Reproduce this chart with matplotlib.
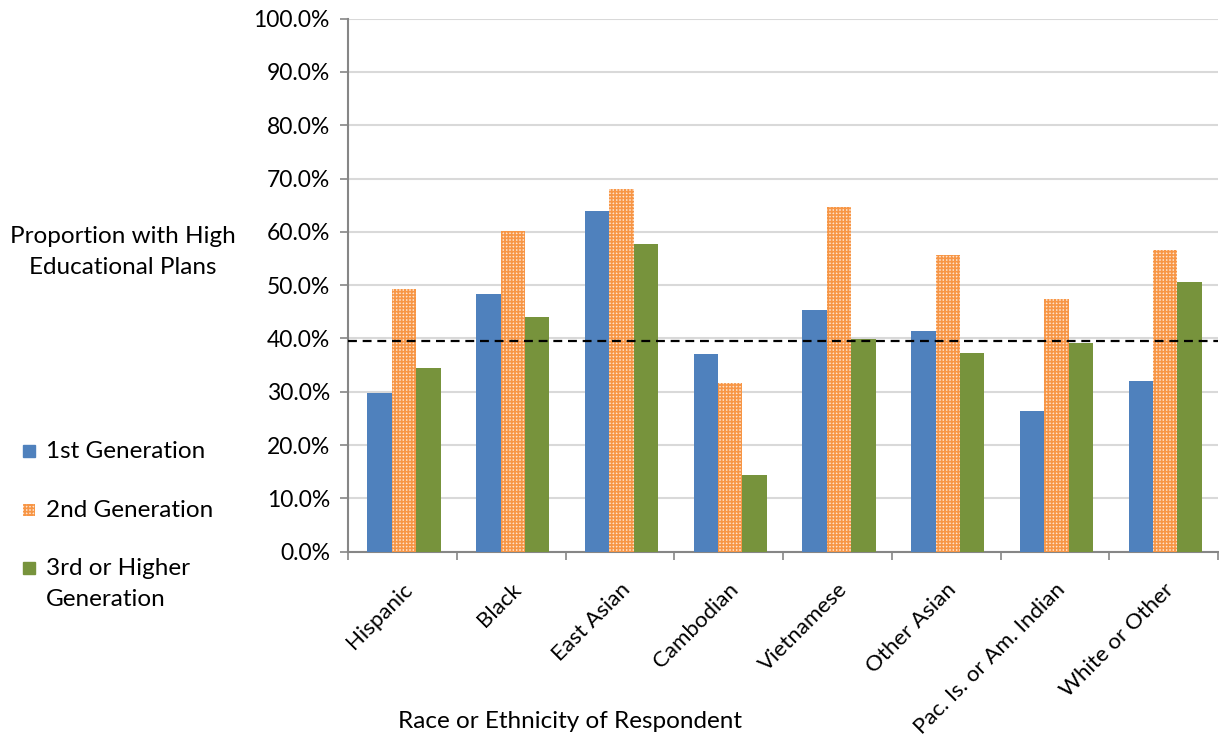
import numpy as np
import matplotlib
matplotlib.use("Agg")
import matplotlib.pyplot as plt
from matplotlib.patches import Rectangle
from matplotlib.ticker import FuncFormatter

plt.rcParams.update({"font.family": ["Lato", "DejaVu Sans"],
                     "hatch.linewidth": 1.2})

groups = ["Hispanic", "Black", "East Asian", "Cambodian", "Vietnamese",
          "Other Asian", "Pac. Is. or Am. Indian", "White or Other"]
gen1 = [29.8, 48.3, 63.9, 37.1, 45.4, 41.4, 26.4, 32.0]
gen2 = [49.2, 60.2, 68.0, 31.6, 64.6, 55.6, 47.4, 56.5]
gen3 = [34.4, 44.0, 57.7, 14.3, 39.9, 37.2, 39.1, 50.6]
overall = 39.6
series = ["1st Generation", "2nd Generation", "3rd or Higher\nGeneration"]

BLUE, ORANGE, GREEN = "#4F81BD", "#F79646", "#77933C"
styles = [dict(color=BLUE),
          dict(facecolor="#FEE3CE", edgecolor=ORANGE, hatch="+++++", linewidth=0),
          dict(color=GREEN)]

W, H = 1219, 736
fig = plt.figure(figsize=(W / 100, H / 100), dpi=100)
ax = fig.add_axes([348 / W, 1 - 551.6 / H, 870 / W, 533 / H])

x = np.arange(len(groups))
bw = 0.225
for i, (vals, st) in enumerate(zip([gen1, gen2, gen3], styles)):
    ax.bar(x + (i - 1) * bw + 0.015, vals, bw, zorder=3, **st)

ax.axhline(overall, color="black", lw=1.6, ls=(0, (4, 2.6)), zorder=4)

ax.set_ylim(0, 100)
ax.set_xlim(-0.5, len(groups) - 0.5)
ax.set_yticks(np.arange(0, 101, 10))
ax.yaxis.set_major_formatter(FuncFormatter(lambda v, p: f"{v:.1f}%"))
ax.yaxis.grid(True, color="#D9D9D9", lw=1.5, zorder=0)
ax.set_axisbelow(True)
for s in ("top", "right"):
    ax.spines[s].set_visible(False)
for s in ("left", "bottom"):
    ax.spines[s].set_color("#868686")
    ax.spines[s].set_linewidth(1.5)
ax.tick_params(axis="y", length=6, width=1.2, color="#868686", labelsize=16.5, pad=7)

ax.set_xticks(x)
ax.set_xticklabels(groups, rotation=45, ha="right", rotation_mode="anchor", fontsize=16)
ax.tick_params(axis="x", which="major", length=0, pad=20)
ax.set_xticks(np.arange(-0.5, len(groups)), minor=True)
ax.tick_params(axis="x", which="minor", length=6, width=1.2, color="#868686")

fig.text(123 / W, 1 - 252 / H, "Proportion with High\nEducational Plans",
         ha="center", va="center", fontsize=17.5, linespacing=1.6)
fig.text(570 / W, 1 - 721 / H, "Race or Ethnicity of Respondent",
         ha="center", va="center", fontsize=17.5)

# legend drawn by hand on the left side
for lab, st, yc in zip(series, styles, [451, 510, 568]):
    fig.add_artist(Rectangle((23 / W, 1 - (yc + 6) / H), 12 / W, 12 / H,
                             transform=fig.transFigure, **st))
    fig.text(46 / W, 1 - (yc - 10) / H, lab, ha="left", va="top", fontsize=17.5,
             linespacing=1.6)

fig.savefig("out.png", dpi=100)
